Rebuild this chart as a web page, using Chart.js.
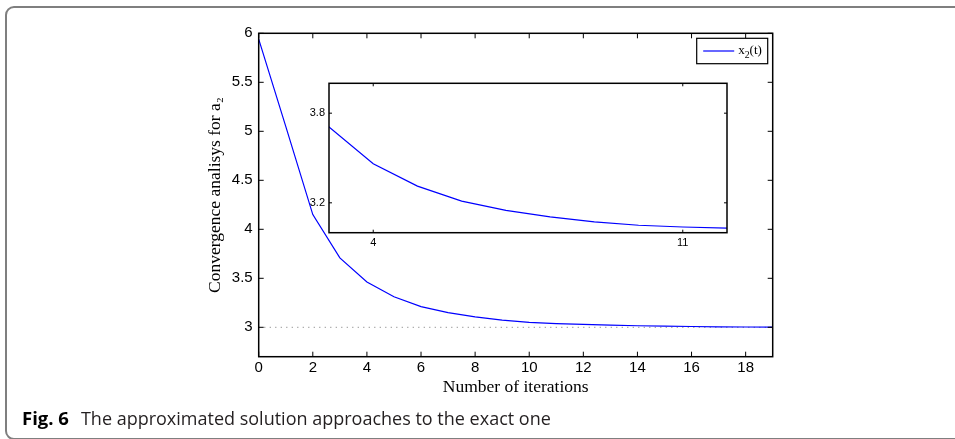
<!DOCTYPE html>
<html><head><meta charset="utf-8">
<script src="https://cdn.jsdelivr.net/npm/chart.js@4"></script>
<style>
html,body{margin:0;padding:0;background:#fff;width:955px;height:439px;overflow:hidden;}
#wrap{position:relative;width:955px;height:439px;}
#frame{position:absolute;left:5px;top:6px;width:1000px;height:434px;border:2px solid #7f7f7f;border-radius:9px;box-sizing:border-box;}
#main{position:absolute;left:0;top:0;}
#inset{position:absolute;left:290px;top:70px;}
#caption{position:absolute;left:22px;top:407px;font-family:"Open Sans";font-size:18px;color:#231f20;white-space:nowrap;line-height:1.2;}
#caption b{font-weight:700;color:#000;font-size:18.5px;margin-right:12px;}
</style></head>
<body>
<div id="wrap">
  <div id="frame"></div>
  <canvas id="main" width="955" height="439"></canvas>
  <canvas id="inset" width="450" height="180"></canvas>
  <div id="caption"><b>Fig. 6</b>The approximated solution approaches to the exact one</div>
</div>
<script>
// ---- data ----
const iterations = [0,1,2,3,4,5,6,7,8,9,10,11,12,13,14,15,16,17,18,19];
const a2Values   = [5.94,5.05,4.15,3.708,3.462,3.312,3.211,3.149,3.106,3.073,3.05,3.038,3.03,3.022,3.016,3.011,3.008,3.005,3.003,3.002];
const exactX     = [0,19];
const exactY     = [3,3];
const mainXTicks = [0,2,4,6,8,10,12,14,16,18];
const mainYTicks = [3,3.5,4,4.5,5,5.5,6];
const insetXTicks = [4,11];
const insetYTicks = [3.2,3.8];
const seriesLabel = 'x₂(t)';
const yTitle = 'Convergence analisys for a₂';
const xTitle = 'Number of iterations';

const seriesPts = iterations.map((x,i)=>({x:x, y:a2Values[i]}));
const exactPts = exactX.map((x,i)=>({x:x, y:exactY[i]}));

const boxPlugin = {
  id:'box',
  beforeDatasetsDraw(chart, args, opts){
    if(!opts.fill) return;
    const {ctx, chartArea:a} = chart;
    ctx.save(); ctx.fillStyle='#fff';
    ctx.fillRect(a.left,a.top,a.right-a.left,a.bottom-a.top);
    ctx.restore();
  },
  afterDatasetsDraw(chart, args, opts){
    const {ctx, chartArea:a, scales:{x,y}} = chart;
    ctx.save();
    ctx.strokeStyle='#000'; ctx.lineWidth=opts.lw;
    ctx.strokeRect(a.left,a.top,a.right-a.left,a.bottom-a.top);
    const L = opts.tick;
    ctx.lineWidth = 1;
    ctx.beginPath();
    x.ticks.forEach(t=>{const p=x.getPixelForValue(t.value);
      ctx.moveTo(p,a.bottom); ctx.lineTo(p,a.bottom-L);
      ctx.moveTo(p,a.top); ctx.lineTo(p,a.top+L);});
    y.ticks.forEach(t=>{const p=y.getPixelForValue(t.value);
      ctx.moveTo(a.left,p); ctx.lineTo(a.left+L,p);
      ctx.moveTo(a.right,p); ctx.lineTo(a.right-L,p);});
    ctx.stroke();
    ctx.restore();
  }
};

function drawSubText(ctx, text, x, y, size){
  const subs = '₀₁₂₃₄₅₆₇₈₉';
  for(const ch of text){
    const i = subs.indexOf(ch);
    if(i>=0){
      ctx.font = (size*0.75)+'px "Liberation Serif"';
      ctx.fillText(String(i), x, y+size*0.3);
      x += ctx.measureText(String(i)).width;
    } else {
      ctx.font = size+'px "Liberation Serif"';
      ctx.fillText(ch, x, y);
      x += ctx.measureText(ch).width;
    }
  }
}

const legendPlugin = {
  id:'boxLegend',
  afterDraw(chart){
    const {ctx, chartArea:a} = chart;
    const ds = chart.data.datasets[0];
    const w = 71, h = 25.4;
    const bx = a.right - 5 - w, by = a.top + 5;
    ctx.save();
    ctx.fillStyle='#fff'; ctx.fillRect(bx,by,w,h);
    ctx.strokeStyle='#000'; ctx.lineWidth=1.2; ctx.strokeRect(bx,by,w,h);
    ctx.strokeStyle=ds.borderColor; ctx.lineWidth=1.2;
    ctx.beginPath(); ctx.moveTo(bx+6.5,by+12.7); ctx.lineTo(bx+37.5,by+12.7); ctx.stroke();
    ctx.fillStyle='#000'; ctx.textBaseline='alphabetic'; ctx.textAlign='left';
    drawSubText(ctx, ds.label, bx+41.5, by+16, 13);
    ctx.restore();
  }
};

const tickFont = {family:'"Liberation Sans", Arial, sans-serif', size:15};

new Chart(document.getElementById('main'), {
  type:'line',
  data:{datasets:[
    {label:seriesLabel, data:seriesPts, borderColor:'#0000ff', borderWidth:1.2, pointRadius:0, tension:0, order:1},
    {label:'exact', data:exactPts, borderColor:'#8c8c8c', borderWidth:1, borderDash:[1.2,4.3], pointRadius:0, order:2}
  ]},
  options:{
    responsive:false, animation:false,
    layout:{padding:{top:33.3,right:182.3,left:204.5,bottom:41.5}},
    plugins:{legend:{display:false}, tooltip:{enabled:false}, box:{lw:1.5, tick:5}},
    scales:{
      x:{type:'linear', min:0, max:19,
        afterBuildTicks:s=>{s.ticks = mainXTicks.map(v=>({value:v}));},
        afterFit:s=>{s.height = 40.8;},
        grid:{display:false, drawTicks:false}, border:{display:false},
        ticks:{font:tickFont, color:'#000', padding:2.5, maxRotation:0, autoSkip:false, callback:v=>String(v)},
        title:{display:true, text:xTitle, font:{family:'"Liberation Serif"', size:17.5}, color:'#000', padding:0}
      },
      y:{type:'linear', min:2.7, max:6,
        afterBuildTicks:s=>{s.ticks = mainYTicks.map(v=>({value:v}));},
        afterFit:s=>{s.width = 54.2;},
        grid:{display:false, drawTicks:false}, border:{display:false},
        ticks:{font:tickFont, color:'#000', padding:6, autoSkip:false, callback:v=>String(v)},
        title:{display:true, text:yTitle, font:{family:'"Liberation Serif"', size:17.5}, color:'#000', padding:0}
      }
    }
  },
  plugins:[boxPlugin, legendPlugin]
});

const insetFont = {family:'"Liberation Sans", Arial, sans-serif', size:11};
new Chart(document.getElementById('inset'), {
  type:'line',
  data:{datasets:[
    {label:seriesLabel, data:seriesPts, borderColor:'#0000ff', borderWidth:1.2, pointRadius:0, tension:0}
  ]},
  options:{
    responsive:false, animation:false,
    layout:{padding:{top:13.3,right:13,left:0,bottom:0}},
    plugins:{legend:{display:false}, tooltip:{enabled:false}, box:{lw:1.5, tick:3, fill:true}},
    scales:{
      x:{type:'linear', min:3, max:12,
        afterBuildTicks:s=>{s.ticks = insetXTicks.map(v=>({value:v}));},
        afterFit:s=>{s.height = 17.3;},
        grid:{display:false, drawTicks:false}, border:{display:false},
        ticks:{font:insetFont, color:'#000', padding:3.5, maxRotation:0, autoSkip:false, callback:v=>String(v)}
      },
      y:{type:'linear', min:3, max:4,
        afterBuildTicks:s=>{s.ticks = insetYTicks.map(v=>({value:v}));},
        afterFit:s=>{s.width = 39;},
        grid:{display:false, drawTicks:false}, border:{display:false},
        ticks:{font:insetFont, color:'#000', padding:4, autoSkip:false, callback:v=>String(v)}
      }
    }
  },
  plugins:[boxPlugin]
});
</script>
</body></html>
